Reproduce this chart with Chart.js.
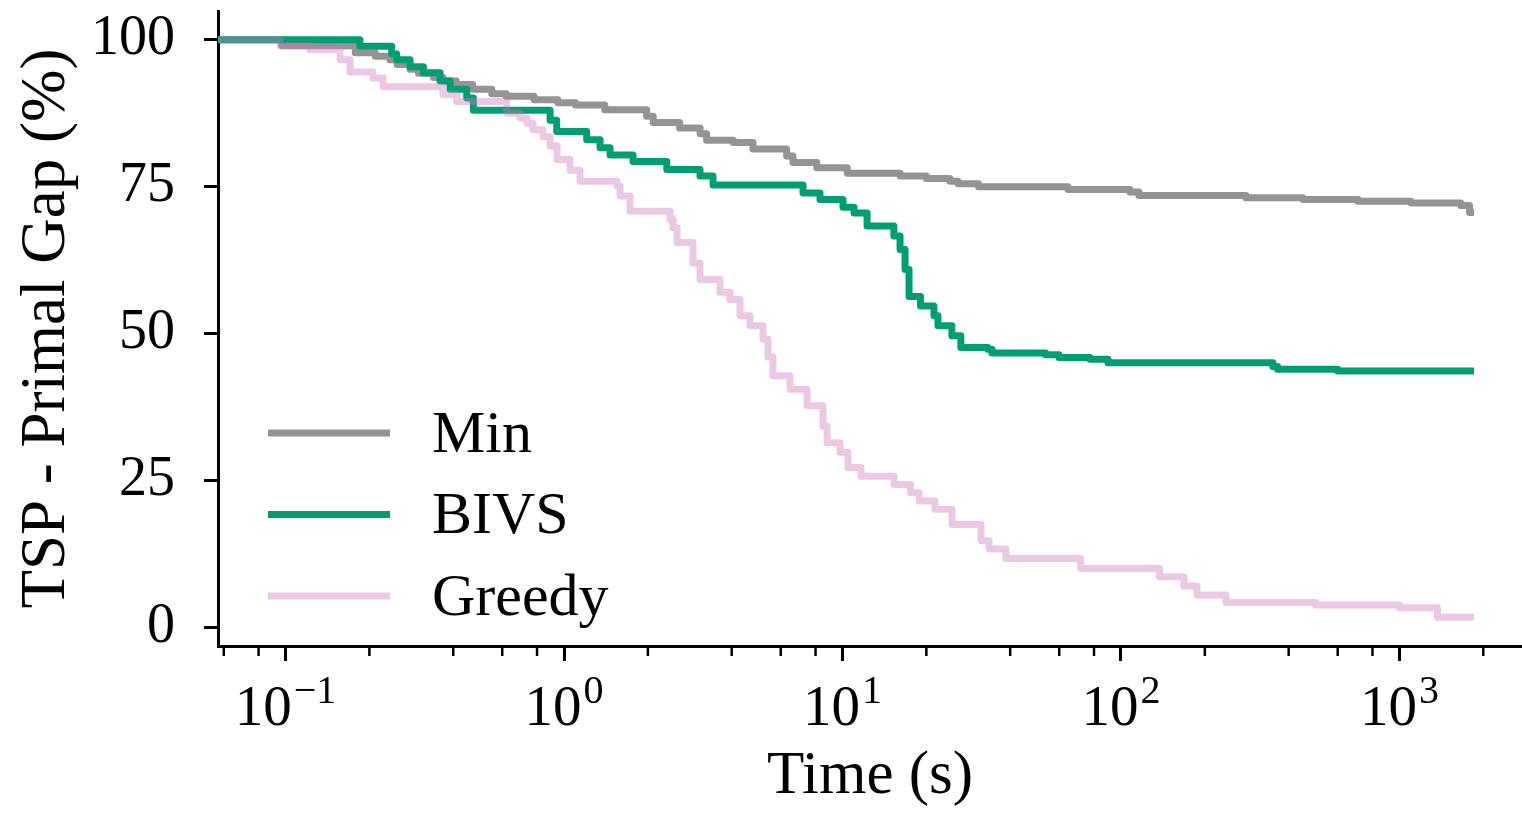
<!DOCTYPE html>
<html>
<head>
<meta charset="utf-8">
<title>TSP - Primal Gap</title>
<script src="https://cdn.jsdelivr.net/npm/chart.js@4.4.0/dist/chart.umd.min.js"></script>
<style>
  html, body { margin: 0; padding: 0; background: #fff; }
  #wrap { width: 1522px; height: 816px; }
</style>
</head>
<body>
<div id="wrap"><canvas id="gapChart" width="1522" height="816"></canvas></div>
<script>
// series (time in s, gap in %), step changes
const minTime = [0.0572, 0.097, 0.178, 0.21, 0.237, 0.2515, 0.28, 0.30, 0.34, 0.3677,
  0.41, 0.47, 0.55, 0.62, 0.78, 0.95, 1.1, 1.4, 1.98, 2.09,
  2.6, 3.08, 3.25, 4.05, 4.77, 6.3, 6.64, 8.08, 10.4, 16.1,
  20, 24.3, 26, 30.8, 64.5, 107.7, 116, 281, 450, 710,
  1100, 1660, 1785, 1800];
const minGap = [100, 99.0, 97.8, 97.2, 96.6, 95.8, 95.0, 94.3, 93.6, 93.0,
  92.4, 91.6, 90.8, 90.4, 89.8, 89.3, 88.9, 88.1, 87.0, 85.9,
  85.0, 84.0, 82.9, 82.5, 81.4, 80.2, 79.1, 78.2, 77.3, 76.8,
  76.4, 75.9, 75.5, 75.0, 74.5, 74.1, 73.5, 73.1, 72.8, 72.5,
  72.2, 71.8, 70.6, 70.6];

const bivsTime = [0.0572, 0.185, 0.2406, 0.2507, 0.28, 0.3126, 0.3587, 0.3898, 0.4472, 0.4724,
  0.891, 0.941, 1.206, 1.347, 1.463, 1.769, 2.338, 3.078, 3.428, 7.214,
  8.3, 10.04, 11.0, 12.25, 15.29, 16.09, 16.77, 17.33, 19.06, 21.3,
  22.02, 24.7, 26.6, 33.2, 34.4, 53.6, 59.9, 77.4, 89.8, 351,
  365, 600, 1800];
const bivsGap = [100, 98.9, 97.6, 96.6, 95.4, 94.4, 93.0, 91.6, 90.1, 88.0,
  86.3, 84.4, 83.0, 81.6, 80.4, 79.3, 77.9, 76.8, 75.3, 73.9,
  72.8, 71.5, 70.5, 68.3, 66.6, 64.3, 60.9, 56.3, 54.7, 53.0,
  51.3, 49.6, 47.6, 47.3, 46.7, 46.4, 45.9, 45.6, 45.0, 44.4,
  43.9, 43.6, 43.6];

const greedyTime = [0.0572, 0.0956, 0.1225, 0.157, 0.1705, 0.206, 0.224, 0.3677, 0.4117, 0.6225,
  0.695, 0.736, 0.774, 0.8406, 0.891, 0.944, 1.051, 1.141, 1.55, 1.589,
  1.726, 2.403, 2.463, 2.545, 2.905, 3.078, 3.632, 3.94, 4.285, 4.655,
  5.18, 5.4, 5.628, 6.48, 7.46, 8.51, 8.8, 9.8, 10.46, 11.65,
  15.31, 17.54, 18.83, 21.48, 24.73, 31.43, 33.6, 38.6, 71.7, 137.5,
  168.3, 187.5, 238.2, 500, 1000, 1369, 1800];
const greedyGap = [100, 99.0, 98.3, 96.6, 94.5, 93.5, 92.0, 90.7, 89.5, 87.5,
  86.7, 85.8, 84.7, 83.5, 81.9, 79.6, 77.8, 75.9, 75.1, 73.4,
  70.8, 69.4, 68.0, 65.5, 62.0, 59.2, 57.0, 55.8, 53.0, 51.3,
  49.0, 46.0, 42.8, 40.5, 37.7, 34.2, 31.4, 29.8, 27.2, 25.7,
  24.3, 22.9, 21.5, 20.1, 17.5, 14.7, 13.3, 11.7, 10.0, 8.6,
  7.0, 5.5, 4.2, 3.8, 3.3, 1.7, 1.7];

// ticks
const yTicks = [0, 25, 50, 75, 100];
const xMajorTicks = [0.1, 1, 10, 100, 1000];
const xMajorExponents = ['\u22121', '0', '1', '2', '3'];
const xMinorTicks = [0.06, 0.08, 0.2, 0.4, 0.6, 0.8, 2, 4, 6, 8, 20, 40, 60, 80, 200, 400, 600, 800, 2000];
const legendOrder = ['Min', 'BIVS', 'Greedy'];

const FONT = "'Liberation Serif', 'DejaVu Serif', serif";

function toPoints(times, gaps) {
    return times.map((t, i) => ({ x: t, y: gaps[i] }));
}

function lineDataset(label, times, gaps, color) {
    return {
        label: label,
        data: toPoints(times, gaps),
        borderColor: color,
        backgroundColor: color,
        borderWidth: 7,
        stepped: true,
        pointRadius: 0,
        borderJoinStyle: 'round',
        borderCapStyle: 'square',
        fill: false
    };
}

// minor ticks, superscript tick labels and the legend
const axisExtras = {
    id: 'axisExtras',
    afterDraw(chart) {
        const ctx = chart.ctx;
        const xScale = chart.scales.x;
        const area = chart.chartArea;
        ctx.save();

        ctx.strokeStyle = '#000';
        ctx.lineWidth = 2.5;
        xMinorTicks.forEach(v => {
            const px = xScale.getPixelForValue(v);
            ctx.beginPath();
            ctx.moveTo(px, area.bottom);
            ctx.lineTo(px, area.bottom + 10);
            ctx.stroke();
        });

        ctx.fillStyle = '#000';
        ctx.textAlign = 'left';
        ctx.textBaseline = 'alphabetic';
        xMajorTicks.forEach((v, i) => {
            const px = xScale.getPixelForValue(v);
            ctx.font = `57px ${FONT}`;
            const baseW = ctx.measureText('10').width;
            ctx.font = `40px ${FONT}`;
            const expW = ctx.measureText(xMajorExponents[i]).width;
            const left = px - (baseW + expW + 2) / 2;
            ctx.font = `57px ${FONT}`;
            ctx.fillText('10', left, area.bottom + 79);
            ctx.font = `40px ${FONT}`;
            ctx.fillText(xMajorExponents[i], left + baseW + 2, area.bottom + 57);
        });

        // legend, no frame
        ctx.textBaseline = 'middle';
        ctx.font = `60px ${FONT}`;
        legendOrder.forEach((name, i) => {
            const ds = chart.data.datasets.find(d => d.label === name);
            const y = area.top + 422 + i * 81.5;
            ctx.strokeStyle = ds.borderColor;
            ctx.lineWidth = 7;
            ctx.lineCap = 'butt';
            ctx.beginPath();
            ctx.moveTo(area.left + 50, y);
            ctx.lineTo(area.left + 172, y);
            ctx.stroke();
            ctx.fillStyle = '#000';
            ctx.fillText(name, area.left + 214, y + 3);
        });
        ctx.restore();
    }
};

const canvas = document.getElementById('gapChart');
new Chart(canvas, {
    type: 'line',
    data: {
        // Greedy first so it is painted on top, as in the reference
        datasets: [
            lineDataset('Greedy', greedyTime, greedyGap, 'rgba(204, 120, 188, 0.4)'),
            lineDataset('BIVS', bivsTime, bivsGap, '#029e73'),
            lineDataset('Min', minTime, minGap, '#949494')
        ]
    },
    options: {
        responsive: false,
        animation: false,
        layout: { padding: { top: 11, left: 0, right: 0, bottom: 0 } },
        plugins: {
            legend: { display: false },
            tooltip: { enabled: false }
        },
        scales: {
            x: {
                type: 'logarithmic',
                min: 0.0572,
                max: 2754,
                afterBuildTicks: s => { s.ticks = xMajorTicks.map(v => ({ value: v, major: true })); },
                afterFit: s => { s.height = 170; s.paddingLeft = 0; s.paddingRight = 0; },
                grid: { drawOnChartArea: false, drawTicks: true, tickLength: 15, tickWidth: 3, tickColor: '#000' },
                border: { display: true, color: '#000', width: 3 },
                ticks: { display: false },
                title: {
                    display: true,
                    text: 'Time (s)',
                    color: '#000',
                    font: { family: FONT, size: 61 },
                    padding: { top: 0, bottom: 2 }
                }
            },
            y: {
                min: -3.2,
                max: 104.9,
                afterBuildTicks: s => { s.ticks = yTicks.map(v => ({ value: v })); },
                afterFit: s => { s.width = 218; s.paddingTop = 0; s.paddingBottom = 0; },
                grid: { drawOnChartArea: false, drawTicks: true, tickLength: 14, tickWidth: 3, tickColor: '#000' },
                border: { display: true, color: '#000', width: 3 },
                ticks: { color: '#000', font: { family: FONT, size: 56 }, padding: 29 },
                title: {
                    display: true,
                    text: 'TSP - Primal Gap (%)',
                    color: '#000',
                    font: { family: FONT, size: 63 },
                    padding: { top: 10, bottom: 0 }
                }
            }
        }
    },
    plugins: [axisExtras]
});
</script>
</body>
</html>
